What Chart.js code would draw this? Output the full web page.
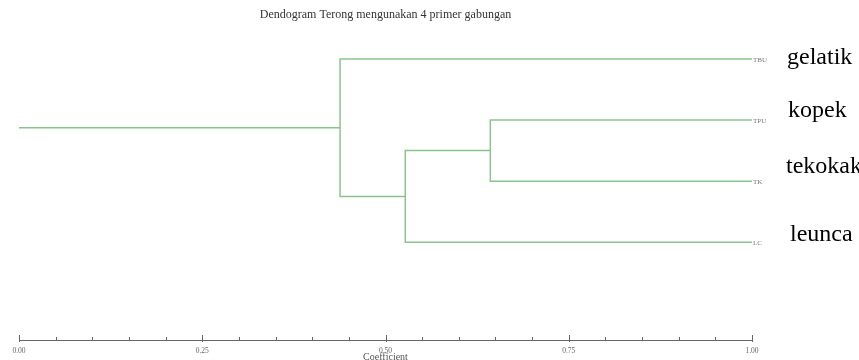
<!doctype html>
<html>
  <head>
    <script src="https://cdn.jsdelivr.net/npm/chart.js"></script>
    <style>
      body { margin: 0; background: white; }
      #wrap { width: 859px; height: 360px; }
    </style>
    <title>Dendogram</title>
  </head>
  <body>
    <div id="wrap"><canvas id="drawhere"></canvas></div>
    <script>
      // leaves, top to bottom
      const leaves = ['TBU', 'TPU', 'TK', 'LC'];
      const localnames = ['gelatik', 'kopek', 'tekokak', 'leunca'];
      // merges: [left child, right child, coefficient]; children < 0 are earlier merges
      const mergeleft = [1, -1, 0];
      const mergeright = [2, 3, -2];
      const mergecoef = [0.643, 0.527, 0.438];
      const xticklabels = ['0.00', '0.25', '0.50', '0.75', '1.00'];

      const linecolor = '#8cc38c';
      const serif = "'Liberation Serif', 'Times New Roman', serif";

      // position of a node: leaves sit at coefficient 1, merges at their coefficient
      var nodex = [], nodey = [];
      function childpos(c) {
        if (c >= 0) return {x: 1, y: c + 1};
        return {x: nodex[-c - 1], y: nodey[-c - 1]};
      }

      var datasets = [];
      for (var m = 0; m < mergecoef.length; m++) {
        var a = childpos(mergeleft[m]);
        var b = childpos(mergeright[m]);
        var h = mergecoef[m];
        nodex.push(h);
        nodey.push((a.y + b.y) / 2);
        datasets.push({
          data: [{x: a.x, y: a.y}, {x: h, y: a.y}, {x: h, y: b.y}, {x: b.x, y: b.y}]
        });
      }
      // root stem
      var last = mergecoef.length - 1;
      datasets.push({data: [{x: 0, y: nodey[last]}, {x: nodex[last], y: nodey[last]}]});

      for (var d = 0; d < datasets.length; d++) {
        datasets[d].showLine = true;
        datasets[d].borderColor = linecolor;
        datasets[d].borderWidth = 1.5;
        datasets[d].pointRadius = 0;
        datasets[d].fill = false;
        datasets[d].tension = 0;
      }

      function ismajor(v) {
        return Math.abs(v * 4 - Math.round(v * 4)) < 1e-6;
      }

      // small tick marks above the axis line, plus the leaf names
      const extras = {
        id: 'extras',
        afterDraw(chart) {
          const ctx = chart.ctx;
          const xs = chart.scales.x, ys = chart.scales.y;
          const base = chart.chartArea.bottom;
          ctx.save();
          ctx.strokeStyle = '#666';
          ctx.lineWidth = 1;
          xs.ticks.forEach(function (t) {
            var px = Math.round(xs.getPixelForValue(t.value)) + 0.5;
            ctx.beginPath();
            if (ismajor(t.value)) {
              ctx.moveTo(px, base - 5);
              ctx.lineTo(px, base + 2);
            } else {
              ctx.moveTo(px, base - 3);
              ctx.lineTo(px, base);
            }
            ctx.stroke();
          });

          ctx.textBaseline = 'middle';
          ctx.textAlign = 'left';
          ctx.font = '7px ' + serif;
          ctx.fillStyle = '#777';
          for (var i = 0; i < leaves.length; i++) {
            var py = ys.getPixelForValue(i + 1);
            ctx.fillText(leaves[i], chart.chartArea.right + 1, py + 1);
          }

          // hand placed common names
          const namex = [787, 788, 786, 790];
          const nameshift = [5, -3, -8, -1];
          ctx.textBaseline = 'alphabetic';
          ctx.font = '24px ' + serif;
          ctx.fillStyle = '#000';
          for (var i = 0; i < localnames.length; i++) {
            var py = ys.getPixelForValue(i + 1);
            ctx.fillText(localnames[i], namex[i], py + nameshift[i]);
          }
          ctx.restore();
        }
      };

      var thechart = new Chart(drawhere, {
        type: 'scatter',
        data: {datasets: datasets},
        plugins: [extras],
        options: {
          responsive: true,
          maintainAspectRatio: false,
          animation: false,
          layout: {padding: {left: 19, right: 107, top: 0, bottom: 0}},
          plugins: {
            legend: {display: false},
            tooltip: {enabled: false},
            title: {
              display: true,
              text: 'Dendogram Terong mengunakan 4 primer gabungan',
              color: '#333',
              font: {family: serif, size: 12, weight: 'normal'},
              padding: {top: 8, bottom: 6}
            }
          },
          scales: {
            x: {
              type: 'linear',
              min: 0,
              max: 1,
              grid: {display: false},
              border: {display: true, color: '#666', width: 1},
              ticks: {
                stepSize: 0.05,
                autoSkip: false,
                maxRotation: 0,
                padding: -1,
                color: '#666',
                font: {family: serif, size: 7.5},
                callback: function (v) {
                  if (!ismajor(v)) return '';
                  return xticklabels[Math.round(v * 4)];
                }
              },
              title: {
                display: true,
                text: 'Coefficient',
                color: '#555',
                font: {family: serif, size: 10, lineHeight: 0.5},
                padding: {top: 0, bottom: 0}
              },
              afterFit: function (s) { s.height = 20; }
            },
            y: {
              type: 'linear',
              display: false,
              reverse: true,
              min: 0.5,
              max: 5.6
            }
          }
        }
      });
    </script>
  </body>
</html>
